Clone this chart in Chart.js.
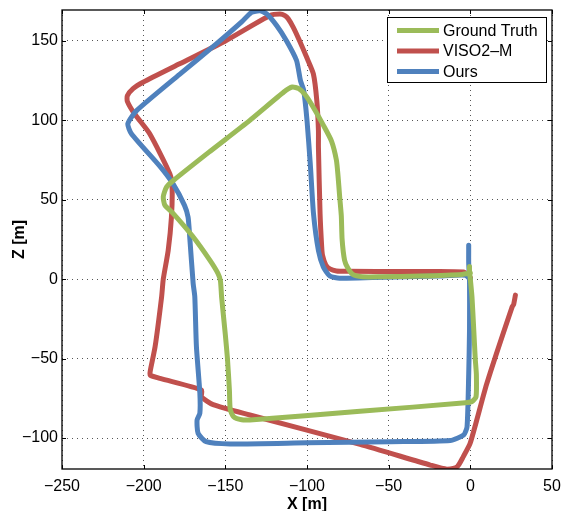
<!DOCTYPE html>
<html>
<head>
<meta charset="utf-8">
<script src="https://cdn.jsdelivr.net/npm/chart.js@4.4.1/dist/chart.umd.min.js"></script>
<style>
  html, body { margin: 0; padding: 0; background: #fff; }
  #wrap { width: 563px; height: 511px; position: relative; }
</style>
</head>
<body>
<div id="wrap"><canvas id="traj"></canvas></div>
<script>
// trajectories (X and Z in metres)
const seriesNames = ['Ground Truth', 'VISO2\u2013M', 'Ours'];

const gtX = [0, -5, -30, -55, -66, -72, -75, -77, -78.5, -79, -80, -81, -82, -85, -90, -96, -101, -105, -109, -114,
  -135, -160, -182, -186, -188, -187, -182, -170, -159.5, -154.6, -153, -152.3, -150, -148.7, -147.5, -147, -145, -140,
  -135, -67.5, -3, 1, 3.5, 3.7, 3, 2, 1, 0, -0.5, -0.5];
const gtZ = [4, 3, 2, 1.5, 1.5, 3, 7, 12, 25, 40, 52, 65, 75, 87, 97, 108, 116, 120, 121, 118,
  100, 80, 62, 58, 52, 46.5, 41.5, 27, 12, 3.8, -1, -11, -35, -50, -70, -82, -86.5, -88.5,
  -88.6, -83.2, -77.8, -77, -74, -60, -50, -30, -11, 0, 5, 8];

const visoX = [0, -4, -40, -75, -82, -86, -88.5, -90.5, -91, -92, -93, -93, -94, -96.1, -100.2, -104.5, -108.4, -111.5,
  -113.5, -116.6, -122.7, -150, -178, -200.4, -206.5, -210, -210, -205.5, -196.3, -184, -182.6, -183, -185, -188, -189,
  -193, -196, -196, -190, -164.6, -164.6, -157.5, -135, -67.5, -24.5, -14.3, -8, -4.3, 0, 10, 25.6, 26.5, 27.6];
const visoZ = [1, 4.6, 4.8, 5, 5.2, 6.5, 9, 15, 20.3, 41.3, 83, 93.7, 112.5, 129.3, 139.7, 150, 158.6, 164,
  166, 167, 166, 150, 135.6, 124, 120, 115.5, 112, 104, 91.6, 66.4, 58, 39, 18, 0, -11,
  -42.5, -58, -60.4, -62.5, -69.8, -74, -79, -85.5, -104, -117, -119.6, -118, -111.7, -103, -66, -17.4, -16, -10];

const oursX = [0, -3, -20, -60, -80, -86, -90, -93, -96, -98, -100, -102, -104, -106.4, -112.5, -118.6, -124.7, -128.8,
  -134, -140, -155.7, -178, -204.5, -209.7, -207.5, -190, -182, -175, -172.8, -171.8, -169.7, -168.7, -167.7, -165.6,
  -165.6, -167.3, -166.7, -161.8, -147, -100, -49, -12.3, -4, -2, -1, -0.5, -0.5, -1, -1];
const oursZ = [0, 2.5, 2, 1, 0.6, 2, 7.7, 18, 41, 72.7, 100, 118.8, 125, 137.7, 150, 159.7, 167, 169,
  168, 162, 148, 129, 106, 97.9, 91.6, 71, 60, 46.5, 39, 26.6, -2.7, -11, -42.5, -71.8,
  -84.4, -88.6, -97, -102.3, -103.7, -103, -102.3, -101.6, -98, -92.8, -60, -32, 0, 10, 21.4];

const xTicks = [-250, -200, -150, -100, -50, 0, 50];
const zTicks = [-100, -50, 0, 50, 100, 150];

const colors = ['#9BBB59', '#C0504D', '#4F81BD'];
const FONT = '"Liberation Sans", Arial, Helvetica, sans-serif';

function toPoints(xs, zs) {
    return xs.map((x, i) => ({ x: x, y: zs[i] }));
}

const minus = v => String(v).replace('-', '\u2212');

// frame with inward ticks and the boxed legend, matlab style
const framePlugin = {
    id: 'frame',
    afterDraw(chart) {
        const { ctx, chartArea: a, scales } = chart;
        ctx.save();
        ctx.strokeStyle = '#000';
        ctx.lineWidth = 1.3;
        ctx.strokeRect(a.left, a.top, a.right - a.left, a.bottom - a.top);

        ctx.lineWidth = 1;
        xTicks.forEach(v => {
            const px = Math.round(scales.x.getPixelForValue(v)) + 0.5;
            ctx.beginPath();
            ctx.moveTo(px, a.bottom); ctx.lineTo(px, a.bottom - 4);
            ctx.moveTo(px, a.top); ctx.lineTo(px, a.top + 4);
            ctx.stroke();
        });
        zTicks.forEach(v => {
            const py = Math.round(scales.y.getPixelForValue(v)) + 0.5;
            ctx.beginPath();
            ctx.moveTo(a.left, py); ctx.lineTo(a.left + 4, py);
            ctx.moveTo(a.right, py); ctx.lineTo(a.right - 4, py);
            ctx.stroke();
        });

        // legend box
        const bx = 387, by = 17, bw = 159, bh = 65;
        ctx.fillStyle = '#fff';
        ctx.fillRect(bx, by, bw, bh);
        ctx.lineWidth = 1;
        ctx.strokeRect(bx + 0.5, by + 0.5, bw, bh);
        ctx.font = '16px ' + FONT;
        ctx.textBaseline = 'middle';
        seriesNames.forEach((name, i) => {
            const ry = by + 13.5 + i * 20.5;
            ctx.strokeStyle = colors[i];
            ctx.lineWidth = 5;
            ctx.beginPath();
            ctx.moveTo(397, ry); ctx.lineTo(439, ry);
            ctx.stroke();
            ctx.fillStyle = '#000';
            ctx.fillText(name, 443, ry + 1);
        });
        ctx.restore();
    }
};

const ctx = document.getElementById('traj').getContext('2d');

new Chart(ctx, {
    type: 'scatter',
    data: {
        datasets: [
            { label: seriesNames[0], data: toPoints(gtX, gtZ), borderColor: colors[0], order: 1 },
            { label: seriesNames[1], data: toPoints(visoX, visoZ), borderColor: colors[1], order: 3 },
            { label: seriesNames[2], data: toPoints(oursX, oursZ), borderColor: colors[2], order: 2 }
        ].map(d => Object.assign(d, {
            showLine: true,
            pointRadius: 0,
            borderWidth: 5,
            tension: 0.2,
            borderJoinStyle: 'round',
            borderCapStyle: 'round'
        }))
    },
    options: {
        responsive: true,
        maintainAspectRatio: false,
        animation: false,
        layout: { padding: { top: 10, right: 11, left: 0, bottom: 0 } },
        plugins: {
            legend: { display: false },
            tooltip: { enabled: false }
        },
        scales: {
            x: {
                type: 'linear',
                min: -250,
                max: 50,
                afterFit: s => {
                    s.height = 42;
                    // no extra room for the end labels, the frame is fixed
                    s.paddingLeft = 0;
                    s.paddingRight = 0;
                },
                afterBuildTicks: s => { s.ticks = xTicks.map(v => ({ value: v })); },
                ticks: {
                    color: '#000',
                    font: { family: FONT, size: 16 },
                    padding: 8,
                    maxRotation: 0,
                    callback: v => minus(v)
                },
                grid: { color: '#555', drawTicks: false, lineWidth: 1 },
                border: { display: false, dash: [1, 4] },
                title: {
                    display: true,
                    text: 'X [m]',
                    color: '#000',
                    font: { family: FONT, size: 16, weight: 'bold' },
                    padding: { top: 0, bottom: -3 }
                }
            },
            y: {
                type: 'linear',
                min: -119.5,
                max: 169.5,
                afterFit: s => {
                    s.width = 62;
                    s.paddingTop = 0;
                    s.paddingBottom = 0;
                },
                afterBuildTicks: s => { s.ticks = zTicks.map(v => ({ value: v })); },
                ticks: {
                    color: '#000',
                    font: { family: FONT, size: 16 },
                    padding: 4,
                    callback: v => minus(v)
                },
                grid: { color: '#555', drawTicks: false, lineWidth: 1 },
                border: { display: false, dash: [1, 4] },
                title: {
                    display: true,
                    text: 'Z [m]',
                    color: '#000',
                    font: { family: FONT, size: 16, weight: 'bold' },
                    padding: { top: 10, bottom: 0 }
                }
            }
        }
    },
    plugins: [framePlugin]
});
</script>
</body>
</html>
